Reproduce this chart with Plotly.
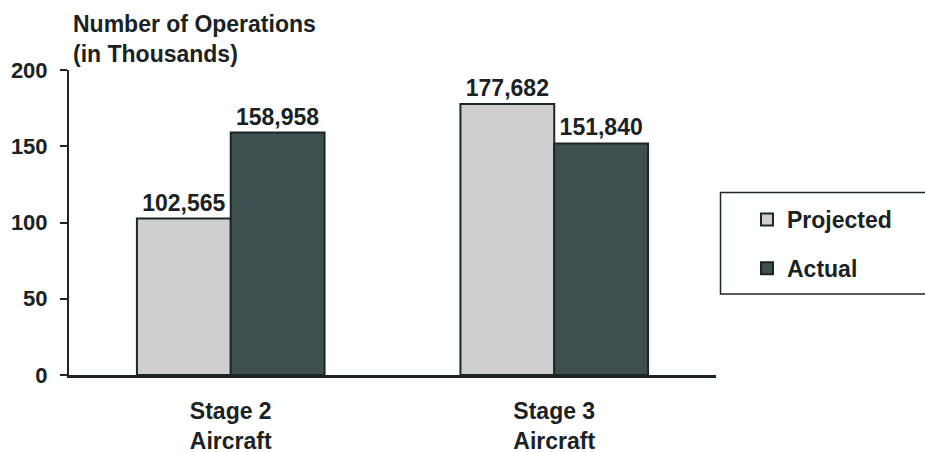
import plotly.graph_objects as go

categories = ["Stage 2<br>Aircraft", "Stage 3<br>Aircraft"]
projected = [102565, 177682]
actual = [158958, 151840]
y_ticks = [0, 50, 100, 150, 200]

TXT = "#1a2224"
LINE = "#1c2626"
FONT = "Liberation Sans, Arial, Helvetica, sans-serif"
FS = 23

fig = go.Figure()
fig.add_trace(go.Bar(
    name="Projected", x=categories, y=[v / 1000 for v in projected], legendgroup="p",
    text=[f"{v:,}" for v in projected], textposition="outside", cliponaxis=False,
    marker=dict(color="#cfcfd1", line=dict(color=LINE, width=2)),
))
fig.add_trace(go.Bar(
    name="Actual", x=categories, y=[v / 1000 for v in actual], legendgroup="a",
    text=[f"{v:,}" for v in actual], textposition="outside", cliponaxis=False,
    marker=dict(color="#3e4f4f", line=dict(color=LINE, width=2)),
))

bold = dict(family=FONT, size=FS, color=TXT, weight="bold")
fig.update_traces(textfont=bold, outsidetextfont=bold)

fig.update_layout(
    width=925, height=452,
    margin=dict(l=69, r=209, t=70, b=77, autoexpand=False),
    paper_bgcolor="white", plot_bgcolor="white",
    barmode="group", bargap=0.42, bargroupgap=0,
    font=bold,
    showlegend=True,
    legend=dict(
        x=(747 - 69) / 647, xanchor="left", y=(375 - 198) / 305, yanchor="top",
        borderwidth=0, bgcolor="rgba(0,0,0,0)",
        font=bold, traceorder="grouped", tracegroupgap=16,
        itemclick=False,
    ),
    yaxis=dict(
        range=[0, 200], tickvals=y_ticks, showgrid=False, zeroline=False,
        showline=True, linecolor=LINE, linewidth=2,
        ticks="outside", ticklen=7, tickwidth=2, tickcolor=LINE,
        ticklabelstandoff=8, automargin=False,
        tickfont=dict(family=FONT, size=22, color=TXT, weight="bold"),
    ),
    xaxis=dict(
        showline=True, linecolor=LINE, linewidth=3, ticks="",
        ticklabelstandoff=13, automargin=False,
        tickfont=bold, range=[-0.5, 1.5],
    ),
    shapes=[dict(
        type="rect", xref="paper", yref="paper",
        x0=(720.5 - 69) / 647, x1=(940 - 69) / 647,
        y0=(375 - 294) / 305, y1=(375 - 192.5) / 305,
        line=dict(color=LINE, width=1.5), fillcolor="rgba(0,0,0,0)", layer="below",
    )],
    annotations=[dict(
        text="<b>Number of Operations<br>(in Thousands)</b>", xref="paper", yref="paper",
        x=0, y=1, xshift=2, yshift=1, xanchor="left", yanchor="bottom", align="left",
        showarrow=False, font=bold,
    )],
)

fig.write_html("out.html")
